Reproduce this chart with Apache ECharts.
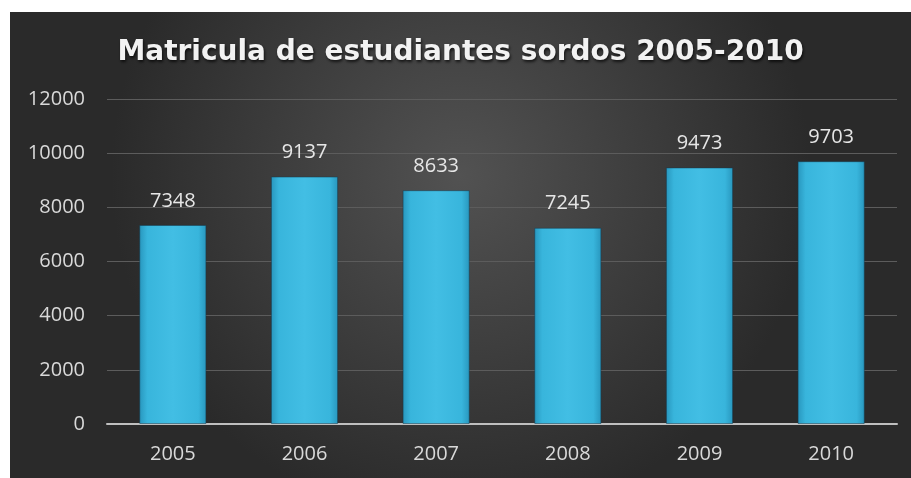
<!DOCTYPE html>
<html>
<head>
<meta charset="utf-8">
<script src="https://cdn.jsdelivr.net/npm/echarts@6/dist/echarts.min.js"></script>
<style>
html,body{margin:0;padding:0;background:#fff;}
#wrap{position:absolute;left:0;top:0;width:911px;height:478px;background:#fff;}
#chart{position:absolute;left:10px;top:12px;width:901px;height:466px;}
</style>
</head>
<body>
<div id="wrap"><div id="chart"></div></div>
<script>
const titleText = 'Matricula de estudiantes sordos 2005-2010';
const categories = ['2005','2006','2007','2008','2009','2010'];
const values = [7348, 9137, 8633, 7245, 9473, 9703];
const yTicks = {min: 0, max: 12000, interval: 2000};

const chart = echarts.init(document.getElementById('chart'));
chart.setOption({
  backgroundColor: {
    type: 'radial', x: 0.5, y: 0.35, r: 0.75,
    colorStops: [
      {offset: 0, color: '#525252'},
      {offset: 1, color: '#2a2a2a'}
    ]
  },
  title: {
    text: titleText,
    left: 'center',
    top: 22,
    textStyle: {
      fontFamily: 'DejaVu Sans',
      fontWeight: 'bold',
      fontSize: 28,
      color: '#f2f2f2',
      textShadowColor: 'rgba(0,0,0,0.7)',
      textShadowBlur: 3,
      textShadowOffsetX: 1,
      textShadowOffsetY: 2
    }
  },
  grid: {left: 97, right: 14, top: 87, bottom: 54},
  xAxis: {
    type: 'category',
    data: categories,
    axisLine: {lineStyle: {color: '#bfbfbf', width: 2}},
    axisTick: {show: false},
    axisLabel: {color: '#d9d9d9', fontSize: 20, margin: 20, fontFamily: 'Open Sans'}
  },
  yAxis: {
    type: 'value',
    min: yTicks.min, max: yTicks.max, interval: yTicks.interval,
    axisLine: {show: false},
    axisTick: {show: false},
    axisLabel: {color: '#d9d9d9', fontSize: 20, margin: 22, fontFamily: 'Open Sans',
      formatter: function (v) { return String(v); }},
    splitLine: {lineStyle: {color: '#5c5c5c', width: 1}}
  },
  series: [{
    type: 'bar',
    data: values,
    barWidth: '51%',
    itemStyle: {
      color: {
        type: 'linear', x: 0, y: 0, x2: 1, y2: 0,
        colorStops: [
          {offset: 0, color: '#2896bd'},
          {offset: 0.12, color: '#38b5dc'},
          {offset: 0.5, color: '#42bee4'},
          {offset: 0.88, color: '#38b5dc'},
          {offset: 1, color: '#2896bd'}
        ]
      },
      borderColor: 'rgba(20,60,80,0.5)',
      borderWidth: 1
    },
    label: {
      show: true,
      position: 'top',
      distance: 14,
      color: '#e6e6e6',
      fontSize: 20,
      fontFamily: 'Open Sans'
    }
  }]
});
</script>
</body>
</html>
